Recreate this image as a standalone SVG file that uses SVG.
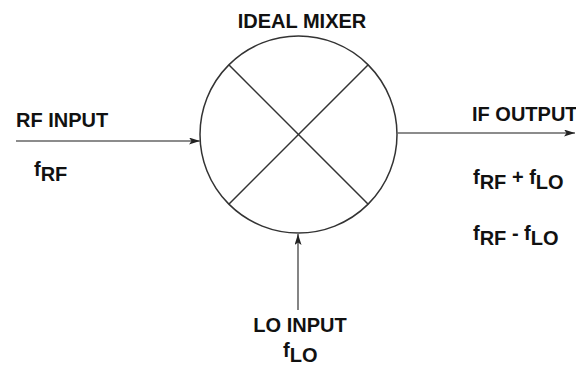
<svg xmlns="http://www.w3.org/2000/svg" width="576" height="365" viewBox="0 0 576 365">
<style>
.lbl{font-family:"Liberation Sans",Arial,sans-serif;font-weight:bold;font-size:20px;fill:#111;}
.conn{stroke:#666;stroke-width:1.6;fill:none;}
.shape{stroke:#333;stroke-width:1.5;fill:#fff;}
</style>
<defs>
<marker id="arr" markerUnits="userSpaceOnUse" markerWidth="12" markerHeight="8" refX="11" refY="3.5" orient="auto">
<path d="M0,0 L11,3.5 L0,7 L2.5,3.5 z" fill="#222"/>
</marker>
</defs>
<g id="mixer">
<circle class="shape" cx="298.5" cy="134.5" r="98.5"/>
<line x1="228.8" y1="64.8" x2="368.2" y2="204.2" stroke="#333" stroke-width="1.5"/>
<line x1="368.2" y1="64.8" x2="228.8" y2="204.2" stroke="#333" stroke-width="1.5"/>
<text class="lbl" x="302" y="28" text-anchor="middle">IDEAL MIXER</text>
</g>
<g id="connectors">
<line class="conn" x1="16" y1="141" x2="200" y2="141" marker-end="url(#arr)"/>
<line class="conn" x1="397" y1="133" x2="575" y2="133" marker-end="url(#arr)"/>
<line class="conn" x1="298" y1="310" x2="298" y2="234" marker-end="url(#arr)"/>
</g>
<g id="rf-input">
<text class="lbl" x="16" y="127">RF INPUT</text>
<text class="lbl" x="34" y="176">f<tspan dy="5">RF</tspan></text>
</g>
<g id="if-output">
<text class="lbl" x="472" y="121">IF OUTPUT</text>
<text class="lbl" x="473" y="184">f<tspan dy="5">RF</tspan><tspan dy="-5"> + f</tspan><tspan dy="5">LO</tspan></text>
<text class="lbl" x="473" y="240">f<tspan dy="5">RF</tspan><tspan dy="-5"> - f</tspan><tspan dy="5">LO</tspan></text>
</g>
<g id="lo-input">
<text class="lbl" x="300" y="332" text-anchor="middle">LO INPUT</text>
<text class="lbl" x="283" y="357">f<tspan dy="5">LO</tspan></text>
</g>
</svg>
